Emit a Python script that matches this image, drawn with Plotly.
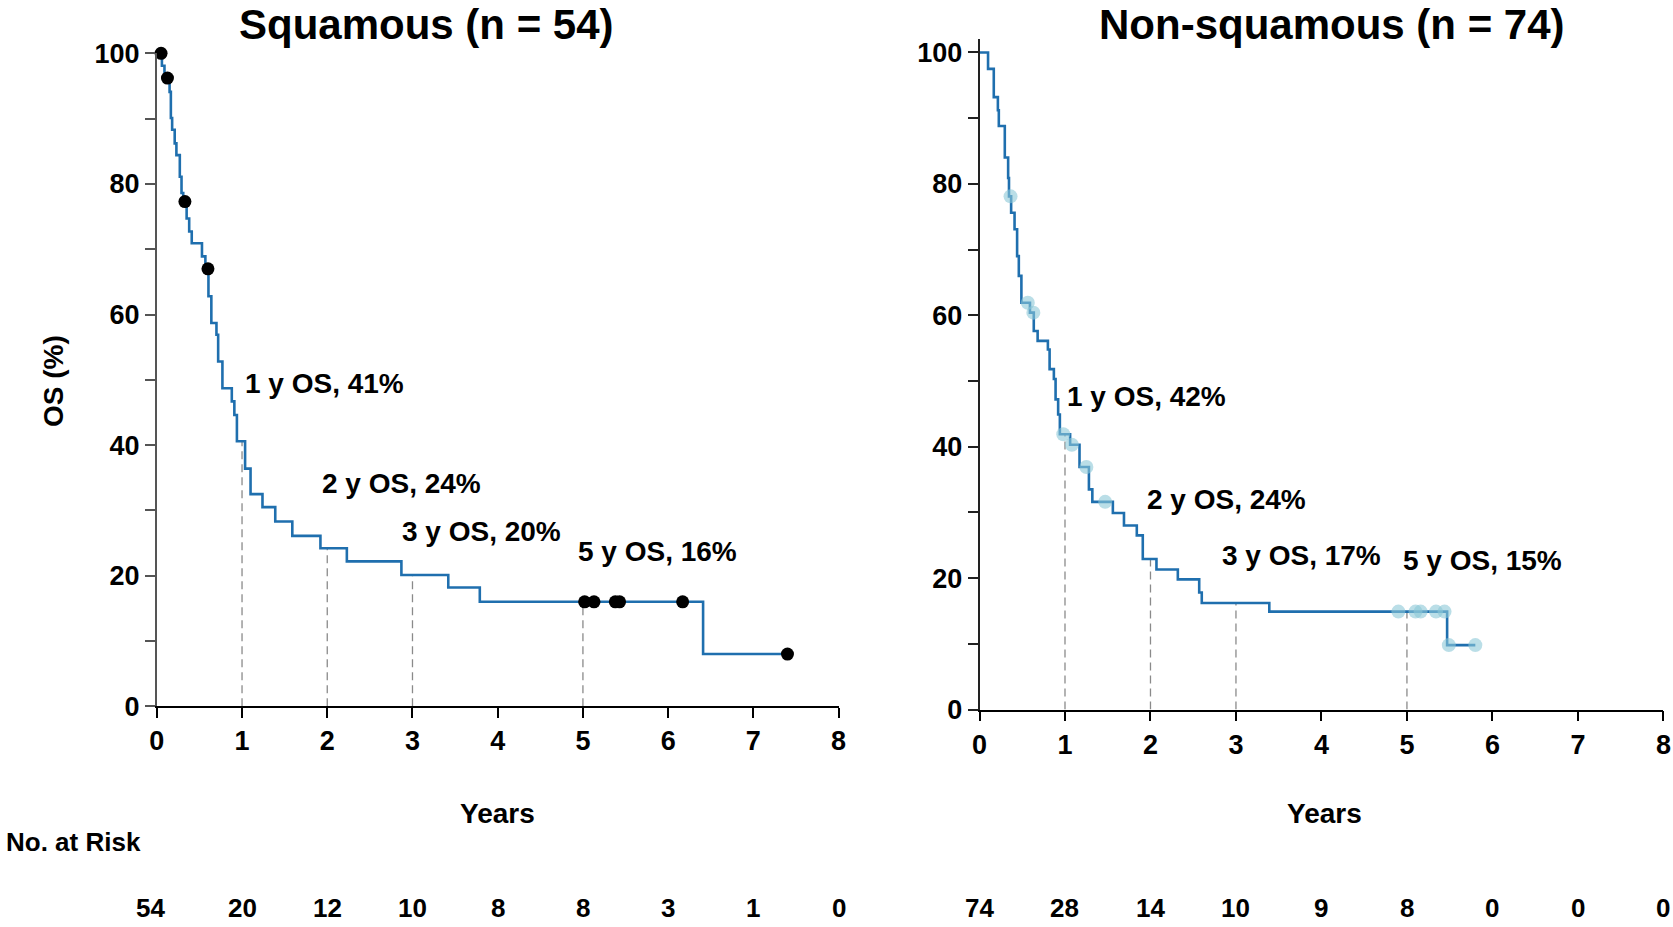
import bisect
import plotly.graph_objects as go

# ---------------- data ----------------
panel_titles = ["Squamous (n = 54)", "Non-squamous (n = 74)"]

sq_times = [0, 0.06, 0.09, 0.15, 0.165, 0.18, 0.21, 0.23, 0.27, 0.29, 0.31, 0.35, 0.38, 0.41,
            0.53, 0.57, 0.606, 0.64, 0.70, 0.72, 0.77, 0.88, 0.91, 0.94, 1.036, 1.10, 1.24,
            1.39, 1.59, 1.92, 2.23, 2.87, 3.42, 3.79, 6.41, 7.40]
sq_surv = [100, 98.1, 96.2, 94.1, 90.1, 88.3, 86.2, 84.4, 81.1, 78.6, 77.3, 74.7, 72.7, 70.9,
           68.9, 67.0, 62.8, 58.7, 56.9, 52.8, 48.7, 46.7, 44.6, 40.6, 36.4, 32.5, 30.5,
           28.3, 26.1, 24.2, 22.2, 20.1, 18.2, 16.0, 8.0, 8.0]
sq_censor = [0.05, 0.125, 0.33, 0.60, 5.02, 5.13, 5.38, 5.43, 6.17, 7.40]

ns_times = [0, 0.10, 0.167, 0.215, 0.226, 0.296, 0.335, 0.345, 0.37, 0.41, 0.44, 0.46, 0.49,
            0.59, 0.635, 0.68, 0.80, 0.82, 0.87, 0.89, 0.92, 0.94, 1.06, 1.17, 1.28, 1.32,
            1.56, 1.69, 1.84, 1.91, 2.07, 2.32, 2.57, 2.60, 3.39, 5.47, 5.80]
ns_surv = [100, 97.5, 93.2, 91.2, 88.8, 84.0, 80.9, 78.1, 75.6, 73.1, 69.0, 66.0, 61.9,
           60.4, 57.6, 56.1, 54.8, 51.8, 50.3, 47.2, 44.9, 41.9, 40.3, 36.9, 33.5, 31.6,
           29.9, 28.0, 26.5, 22.9, 21.3, 19.8, 17.8, 16.2, 14.9, 9.8, 9.8]
ns_censor = [0.363, 0.565, 0.63, 0.98, 1.08, 1.25, 1.47, 4.90, 5.10, 5.16, 5.34, 5.44, 5.49, 5.80]

landmark_years = [1, 2, 3, 5]
sq_landmark_text = ["1 y OS, 41%", "2 y OS, 24%", "3 y OS, 20%", "5 y OS, 16%"]
ns_landmark_text = ["1 y OS, 42%", "2 y OS, 24%", "3 y OS, 17%", "5 y OS, 15%"]
# label anchor positions (data coords)
sq_label_x = [1.01, 1.92, 2.85, 4.92]
sq_label_y = [49.4, 34.1, 26.8, 23.7]
ns_label_x = [1.0, 1.94, 2.81, 4.93]
ns_label_y = [47.6, 32.0, 23.4, 22.7]

risk_years = [0, 1, 2, 3, 4, 5, 6, 7, 8]
sq_at_risk = [54, 20, 12, 10, 8, 8, 3, 1, 0]
ns_at_risk = [74, 28, 14, 10, 9, 8, 0, 0, 0]

x_ticks = [0, 1, 2, 3, 4, 5, 6, 7, 8]
y_ticks = [0, 10, 20, 30, 40, 50, 60, 70, 80, 90, 100]
y_ticktext = ["0", "", "20", "", "40", "", "60", "", "80", "", "100"]

# ---------------- style ----------------
W, H = 1673, 927
FONT = "Liberation Sans, Arial, Helvetica, sans-serif"
LINE = "#1f6fae"
DASH = "#8a8a8a"


def px(x):
    return x / W


def py(y):
    return 1 - y / H


def surv_at(times, surv, t):
    i = bisect.bisect_right(times, t) - 1
    return surv[max(i, 0)]


fig = go.Figure()

panels = [
    dict(t=sq_times, s=sq_surv, c=sq_censor, xa="x", ya="y",
         cm=dict(color="black", size=13), txt=sq_landmark_text, lx=sq_label_x, ly=sq_label_y,
         risk=sq_at_risk),
    dict(t=ns_times, s=ns_surv, c=ns_censor, xa="x2", ya="y2",
         cm=dict(color="rgba(140,200,215,0.6)", size=14), txt=ns_landmark_text,
         lx=ns_label_x, ly=ns_label_y, risk=ns_at_risk),
]

annotations = []
for p in panels:
    for yr in landmark_years:
        fig.add_trace(go.Scatter(x=[yr, yr], y=[0, surv_at(p["t"], p["s"], yr)],
                                 mode="lines", xaxis=p["xa"], yaxis=p["ya"],
                                 line=dict(color=DASH, width=1.3, dash="8px,5px"),
                                 hoverinfo="skip", showlegend=False))
    fig.add_trace(go.Scatter(x=p["t"], y=p["s"], mode="lines", line_shape="hv",
                             xaxis=p["xa"], yaxis=p["ya"],
                             line=dict(color=LINE, width=2.6), showlegend=False,
                             cliponaxis=False))
    fig.add_trace(go.Scatter(x=p["c"], y=[surv_at(p["t"], p["s"], c) for c in p["c"]],
                             mode="markers", xaxis=p["xa"], yaxis=p["ya"],
                             marker=dict(symbol="circle", line=dict(width=0), **p["cm"]),
                             showlegend=False, cliponaxis=False))
    for txt, lx, ly in zip(p["txt"], p["lx"], p["ly"]):
        annotations.append(dict(x=lx, y=ly, xref=p["xa"], yref=p["ya"], text=txt,
                                showarrow=False, xanchor="left", yanchor="middle",
                                font=dict(family=FONT, size=28, color="black", weight="bold")))
    for i, (yr, n) in enumerate(zip(risk_years, p["risk"])):
        annotations.append(dict(x=yr, y=py(924), xref=p["xa"], yref="paper", text=str(n),
                                showarrow=False, xanchor="center", yanchor="bottom",
                                xshift=-6 if (i == 0 and p["xa"] == "x") else 0,
                                borderpad=0,
                                font=dict(family=FONT, size=26, color="black", weight="bold")))

for txt, cx in zip(panel_titles, [426, 1332]):
    annotations.append(dict(x=px(cx), y=py(24), xref="paper", yref="paper", text=txt,
                            showarrow=False, xanchor="center", yanchor="middle",
                            font=dict(family=FONT, size=42, color="black", weight="bold")))
for cx in [497, 1324]:
    annotations.append(dict(x=px(cx), y=py(813), xref="paper", yref="paper", text="Years",
                            showarrow=False, xanchor="center", yanchor="middle",
                            font=dict(family=FONT, size=28, color="black", weight="bold")))
annotations.append(dict(x=px(53), y=py(381), xref="paper", yref="paper", text="OS (%)",
                        showarrow=False, textangle=-90, xanchor="center", yanchor="middle",
                        font=dict(family=FONT, size=28, color="black", weight="bold")))
annotations.append(dict(x=px(4), y=py(842), xref="paper", yref="paper", text="No. at Risk",
                        showarrow=False, xanchor="left", yanchor="middle",
                        font=dict(family=FONT, size=26, color="black", weight="bold")))

tickfont = dict(family=FONT, size=27, color="black", weight="bold")


def xaxis(domain, anchor):
    return dict(domain=domain, anchor=anchor, range=[0, 8], tickvals=x_ticks,
                ticks="outside", ticklen=10, tickwidth=1.5, tickcolor="black",
                showline=True, linecolor="black", linewidth=1.5, showgrid=False,
                zeroline=False, tickfont=tickfont, fixedrange=True, automargin=False)


def yaxis(domain, anchor, rng, color):
    return dict(domain=domain, anchor=anchor, range=rng, tickvals=y_ticks,
                ticktext=y_ticktext, ticks="outside", ticklen=10, tickwidth=1.5,
                tickcolor=color, showline=True, linecolor=color, linewidth=1.5,
                showgrid=False, zeroline=False, tickfont=tickfont, fixedrange=True,
                automargin=False)


fig.update_layout(
    width=W, height=H, autosize=False, margin=dict(l=0, r=0, t=0, b=0, pad=0),
    paper_bgcolor="white", plot_bgcolor="white", showlegend=False,
    xaxis=xaxis([px(156.8), px(838.6)], "y"),
    yaxis=yaxis([py(706.3), py(53.3)], "x", [0, 100], "#555555"),
    xaxis2=xaxis([px(979.5), px(1663.4)], "y2"),
    yaxis2=yaxis([py(709.5), py(39.3)], "x2", [0, 102], "#222222"),
    annotations=annotations,
)

fig.write_html(
    "out.html",
    config={"displayModeBar": False},
    post_script="document.body.style.margin='0';document.body.style.padding='0';"
                "document.body.style.overflow='hidden';"
                "document.documentElement.style.overflow='hidden';",
)
